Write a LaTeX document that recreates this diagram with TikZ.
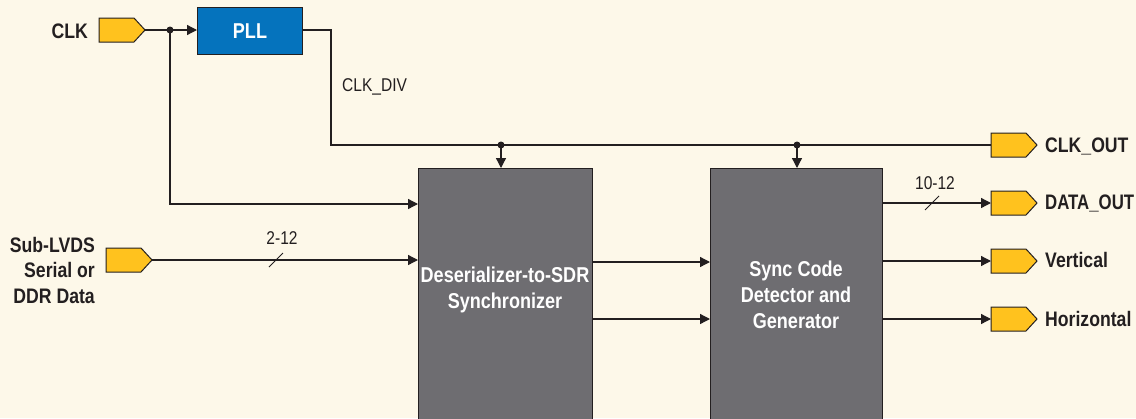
\documentclass[tikz,border=0pt]{standalone}
\usepackage{fontspec}
\setmainfont{Liberation Sans}[FakeStretch=0.84]
\usetikzlibrary{arrows.meta,shapes.symbols}
\definecolor{bg}{HTML}{FDF8E9}
\definecolor{ink}{HTML}{231F20}
\definecolor{port}{HTML}{FFC21E}
\definecolor{pllblue}{HTML}{0573BD}
\definecolor{blk}{HTML}{6E6D71}
\tikzset{
  wire/.style={draw=ink,line width=1.3pt},
  arr/.style={wire,-{Triangle[length=10pt,width=10pt]}},
  portnode/.style={signal,signal to=east,signal pointer angle=95,draw=ink,line width=1pt,fill=port,minimum width=46pt,minimum height=24pt,inner sep=0pt,outer sep=0pt},
  lbl/.style={font=\fontsize{21}{25.5}\selectfont\bfseries,text=ink,inner sep=0pt},
  small/.style={font=\fontsize{18.5}{20}\selectfont,text=ink,inner sep=0pt},
  blocktext/.style={font=\fontsize{21.5}{26}\selectfont\bfseries,text=white,align=center,inner sep=0pt},
  dot/.style={circle,fill=ink,inner sep=0pt,minimum size=7pt},
}
\begin{document}
\begin{tikzpicture}[x=1pt,y=-1pt]
\clip (0,0) rectangle (1136,418);
\fill[bg] (0,0) rectangle (1136,418);
% blocks
\node[draw=ink,line width=1pt,fill=pllblue,minimum width=105pt,minimum height=47pt,anchor=north west,inner sep=0pt] (pll) at (197,7) {};
\node[blocktext] (plltext) at (pll.center) {PLL};
\node[draw=ink,line width=1pt,fill=blk,minimum width=174pt,minimum height=270pt,anchor=north west,inner sep=0pt] (des) at (418,168) {};
\node[blocktext] (destext) at (505,290) {Deserializer-to-SDR\\Synchronizer};
\node[draw=ink,line width=1pt,fill=blk,minimum width=172pt,minimum height=270pt,anchor=north west,inner sep=0pt] (syn) at (710,168) {};
\node[blocktext] (syntext) at (796,295) {Sync Code\\Detector and\\Generator};
% ports
\node[portnode,anchor=west] (clk) at (99,30) {};
\node[lbl,anchor=east] (clkl) at (88,31) {CLK};
\node[portnode,anchor=west] (sub) at (106,260) {};
\node[lbl,anchor=east,align=right] (subl) at (95,270) {Sub-LVDS\\Serial or\\DDR Data};
\node[portnode,anchor=west] (clkout) at (991,145) {};
\node[lbl,anchor=west] (clkoutl) at (1045,146) {CLK\_OUT};
\node[portnode,anchor=west] (dout) at (991,203) {};
\node[lbl,anchor=west] (doutl) at (1045,203) {\addfontfeature{FakeStretch=0.8}DATA\_OUT};
\node[portnode,anchor=west] (vert) at (991,261) {};
\node[lbl,anchor=west] (vertl) at (1045,260) {Vertical};
\node[portnode,anchor=west] (hor) at (991,319) {};
\node[lbl,anchor=west] (horl) at (1045,319) {Horizontal};
% junctions
\node[dot] (j1) at (170,30) {};
\node[dot] (j2) at (501,145) {};
\node[dot] (j3) at (797,145) {};
\coordinate (c1) at (331,30);
\coordinate (c2) at (331,145);
\coordinate (c3) at (170,204);
% wires
\draw[wire] (clk.east) -- (j1.center);
\draw[arr] (j1.center) -- (pll.west |- j1);
\draw[wire] (pll.east |- c1) -- (c1) -- (c2) -- (clkout.west);
\draw[arr] (j2.center) -- (des.north -| j2);
\draw[arr] (j3.center) -- (syn.north -| j3);
\draw[arr] (j1.center) -- (c3) -- (des.west |- c3);
\draw[arr] (sub.east) -- (des.west |- sub);
\draw[arr] (des.east |- 0,262) -- (syn.west |- 0,262);
\draw[arr] (des.east |- 0,319) -- (syn.west |- 0,319);
\draw[arr] (syn.east |- dout) -- (dout.west);
\draw[arr] (syn.east |- vert) -- (vert.west);
\draw[arr] (syn.east |- hor) -- (hor.west);
% bus slashes
\coordinate (s1) at (276,260);
\draw[ink,line width=1pt] ([shift={(-7,7)}]s1) -- ([shift={(7,-7)}]s1);
\node[small] (b1) at (282,238) {2-12};
\coordinate (s2) at (932,203);
\draw[ink,line width=1pt] ([shift={(-7,7)}]s2) -- ([shift={(7,-7)}]s2);
\node[small] (b2) at (935,183) {10-12};
\node[small,anchor=west] (cd) at (342,87) {CLK\_DIV};
\end{tikzpicture}
\end{document}
